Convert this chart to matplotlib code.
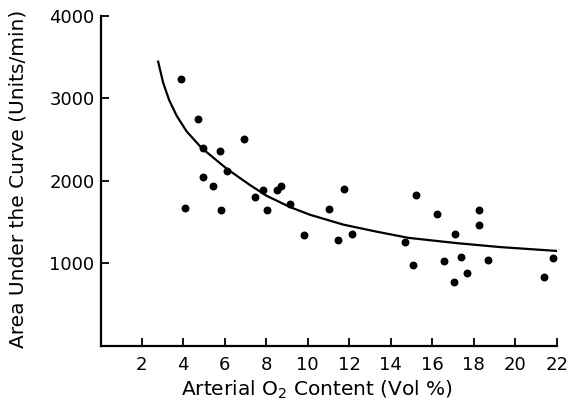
import numpy as np
import matplotlib
matplotlib.use("Agg")
import matplotlib.pyplot as plt

o2_content = [3.88, 4.09, 4.73, 4.94, 4.94, 5.44, 5.76, 5.81, 6.13, 6.93,
              7.46, 7.83, 8.02, 8.54, 8.70, 9.16, 9.82, 11.03, 11.48, 11.75,
              12.15, 14.70, 15.09, 15.22, 16.23, 16.57, 17.08, 17.05, 17.39,
              17.69, 18.27, 18.26, 18.67, 21.37, 21.79]
auc = [3234, 1676, 2749, 2393, 2053, 1935, 2360, 1652, 2121, 2506,
       1805, 1895, 1652, 1895, 1938, 1716, 1348, 1664, 1283, 1902,
       1356, 1258, 975, 1834, 1603, 1028, 1356, 781, 1076,
       890, 1643, 1465, 1044, 830, 1069]

# fitted curve
curve_x = [2.80, 3.04, 3.33, 3.69, 4.17, 4.89, 6.09, 7.22, 8.02, 9.15,
           10.11, 11.72, 13.32, 14.85, 17.18, 19.27, 22.08]
curve_y = [3445, 3190, 2980, 2790, 2600, 2400, 2150, 1950, 1820, 1683,
           1590, 1470, 1385, 1310, 1246, 1198, 1150]

xticks = [2, 4, 6, 8, 10, 12, 14, 16, 18, 20, 22]
yticks = [1000, 2000, 3000, 4000]

plt.rcParams["font.family"] = ["DejaVu Sans"]

fig = plt.figure(figsize=(5.7, 4.07), dpi=100)
ax = fig.add_axes([0.178, 0.150, 0.799, 0.811])

ax.plot(curve_x, curve_y, color="black", lw=1.6)
ax.scatter(o2_content, auc, s=22, color="black", zorder=3)

ax.set_xlim(0.07, 22)
ax.set_ylim(0, 4000)
ax.set_xticks(xticks)
ax.set_yticks(yticks)
ax.tick_params(direction="in", length=6, width=1.3, labelsize=13)
ax.tick_params(axis="x", pad=7)
ax.tick_params(axis="y", pad=5)

for s in ["top", "right"]:
    ax.spines[s].set_visible(False)
for s in ["left", "bottom"]:
    ax.spines[s].set_linewidth(1.6)

ax.set_xlabel("Arterial O$_2$ Content (Vol %)", fontsize=14.5)
ax.set_ylabel("Area Under the Curve (Units/min)", fontsize=14.5)
ax.xaxis.set_label_coords(0.473, -0.10)
ax.yaxis.set_label_coords(-0.163, 0.507)

fig.savefig("out.png", dpi=100)
